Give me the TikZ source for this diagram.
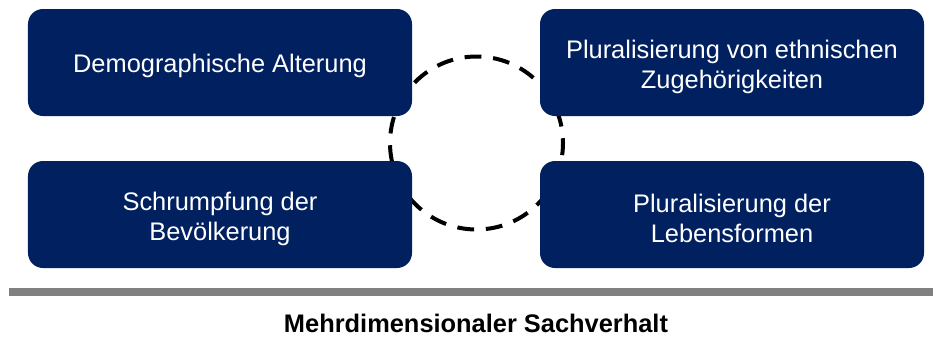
\documentclass[tikz,border=0pt]{standalone}
\usepackage{fontspec}
\setmainfont{Liberation Sans}
\definecolor{navy}{RGB}{0,32,96}
\definecolor{bargray}{RGB}{128,128,128}
\begin{document}
\begin{tikzpicture}[x=1bp,y=-1bp,
  box/.style={fill=navy, rounded corners=15bp, minimum width=384bp, minimum height=107bp, inner sep=0pt},
  boxtext/.style={text=white, align=center, font=\fontsize{25.5}{30}\selectfont, inner sep=0pt},
  ring/.style={circle, draw=black, line width=4bp, dash pattern=on 16.8bp off 11.8bp, dash phase=12bp, minimum size=173bp, inner sep=0pt}]
\useasboundingbox (0,0) rectangle (933,336);
\node[ring] (c) at (476.5,143) {};
\node[box] (a) at (220,62.5) {};
\node[box] (b) at (732,62.5) {};
\node[box] (d) at (220,214.5) {};
\node[box] (e) at (732,214.5) {};
\node[boxtext] (at) at ([yshift=-3.5bp]a.center) {Demographische Alterung};
\node[boxtext] (bt) at ([yshift=-4bp]b.center) {Pluralisierung von ethnischen\\Zugehörigkeiten};
\node[boxtext] (dt) at ([yshift=-4bp]d.center) {Schrumpfung der\\Bevölkerung};
\node[boxtext] (et) at ([yshift=-4bp]e.center) {Pluralisierung der\\Lebensformen};
\fill[bargray] (9,288) rectangle (933,296);
\node[font=\fontsize{25.5}{30}\selectfont\bfseries] (t) at (476,323) {Mehrdimensionaler Sachverhalt};
\end{tikzpicture}
\end{document}
